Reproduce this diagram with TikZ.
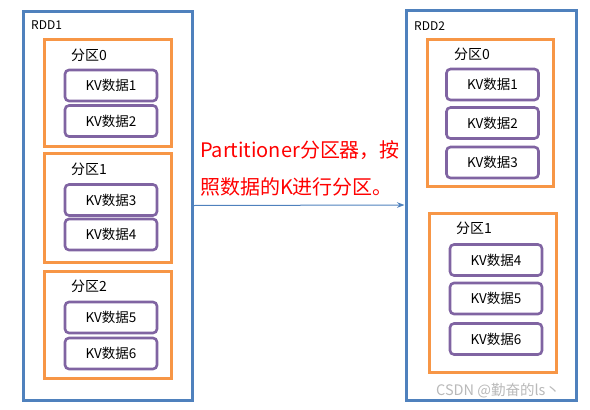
\documentclass[tikz,border=0pt]{standalone}
\usepackage{fontspec}
\setmainfont{Noto Sans CJK SC}
\usetikzlibrary{arrows.meta, positioning}

\definecolor{rddblue}{RGB}{79,129,189}
\definecolor{partorange}{RGB}{247,150,70}
\definecolor{kvpurple}{RGB}{128,100,162}

\begin{document}
\begin{tikzpicture}[x=1pt, y=-1pt, >=Stealth,
    rddbox/.style={draw=rddblue, line width=3pt, inner sep=0pt},
    partbox/.style={draw=partorange, line width=3pt, inner sep=0pt,
      minimum width=127pt},
    kvbox/.style={draw=kvpurple, line width=2.6pt, rounded corners=4pt,
      inner sep=0pt, minimum height=31pt, font={\fontsize{13.5}{13.5}\selectfont}},
    partlabel/.style={anchor=west, inner sep=0pt, font={\fontsize{14}{14}\selectfont}},
    rddlabel/.style={anchor=west, inner sep=0pt, font={\fontsize{12}{12}\selectfont}}]
  \useasboundingbox (0,0) rectangle (590,410);

  % RDD1 with three partitions
  \node[rddbox, minimum width=169pt, minimum height=389pt] (rddA) at (107.5,205.5) {};
  \node[rddlabel] (rddAname) at (31,25) {RDD1};
  \foreach \i/\y/\h/\ly in {0/92.5/107/55, 1/207.5/109/169, 2/324.5/107/286} {
    \node[partbox, minimum height=\h] (pA\i) at (107.5,\y) {};
    \node[partlabel] (lA\i) at (71,\ly) {分区\i};
  }
  \foreach \n/\y in {1/85.5, 2/121, 3/200, 4/234.5, 5/317.5, 6/353.5}
    \node[kvbox, minimum width=92pt] (kvA\n) at (111,\y) {KV数据\n};

  % RDD2 with two partitions
  \node[rddbox, minimum width=170pt, minimum height=390pt] (rddB) at (491,205) {};
  \node[rddlabel] (rddBname) at (414,26) {RDD2};
  \node[partbox, minimum width=126pt, minimum height=147pt] (pB0) at (490,112.5) {};
  \node[partlabel] (lB0) at (454,54) {分区0};
  \node[partbox, minimum height=159pt] (pB1) at (492.5,292.5) {};
  \node[partlabel] (lB1) at (456,228) {分区1};
  \foreach \n/\x/\y in {1/492.5/84.5, 2/492.5/123, 3/492.5/162.5,
                        4/496/260, 5/496/298.5, 6/496/339}
    \node[kvbox, minimum width=92pt] (kvB\n) at (\x,\y) {KV数据\n};

  % Partitioner arrow
  \draw[->, rddblue, line width=1pt] (rddA.east) -- (rddB.west);
  \node[text=red, align=left, inner sep=0pt,
    font={\fontsize{20}{37}\selectfont}] (rule) at (300,168)
    {Partitioner分区器，按\\照数据的K进行分区。};

  % watermark
  \node[anchor=west, inner sep=0pt, text=gray!55,
    font={\fontsize{14.5}{14.5}\selectfont}] (mark) at (436,391) {CSDN @勤奋的ls丶};
\end{tikzpicture}
\end{document}
